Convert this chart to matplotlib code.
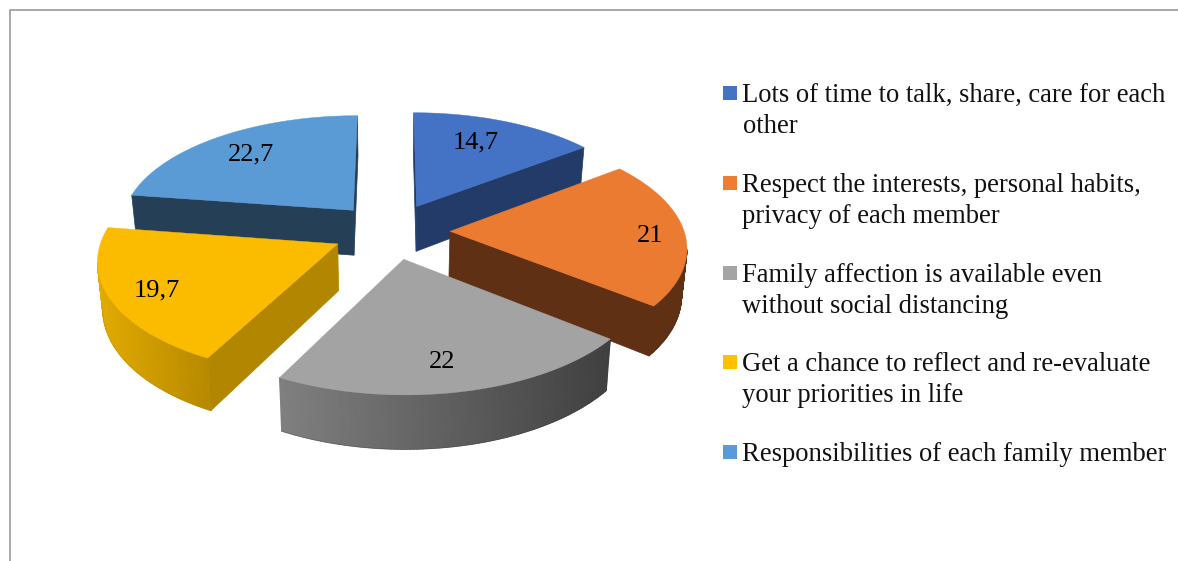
import numpy as np
import matplotlib
matplotlib.use('Agg')
import matplotlib.pyplot as plt
from matplotlib.patches import Rectangle
from matplotlib.colors import LinearSegmentedColormap

plt.rcParams['font.family'] = ['Liberation Serif', 'DejaVu Serif']

categories = ['Lots of time to talk, share, care for each\nother',
              'Respect the interests, personal habits,\nprivacy of each member',
              'Family affection is available even\nwithout social distancing',
              'Get a chance to reflect and re-evaluate\nyour priorities in life',
              'Responsibilities of each family member']
values = [14.7, 21, 22, 19.7, 22.7]
value_labels = ['14,7', '21', '22', '19,7', '22,7']

top_colors = ['#4472C4', '#EB7B31', '#A3A3A3', '#FBBC00', '#5B9BD5']
radial_colors = ['#223B68', '#5F3014', '#444444', '#B38600', '#253F56']
arc_left = ['#223B68', '#5F3014', '#808080', '#E3AC00', '#253F56']
arc_right = ['#223B68', '#5F3014', '#404040', '#B88A00', '#253F56']
legend_colors = ['#4472C4', '#ED7D31', '#A5A5A5', '#FFC000', '#5B9BD5']

label_pos = [(476, 142), (650, 236), (442, 362), (157, 290), (251, 154)]
legend_y = [101, 191, 281, 370, 460]

# pie geometry, in pixels
cx, cy = 391, 231
radius = 234
explode = 59
tilt = 0.475
dist = 1887
depth = 46


def project(x, y, z=0.0):
    s = dist / (dist + y)
    # the base of the pie is a bit further away, so it pulls in sideways
    return cx + x * s * (1 - z * 0.0004), cy - y * tilt * s + z * s


fig = plt.figure(figsize=(11.78, 5.61), dpi=100)
ax = fig.add_axes([0, 0, 1, 1])
ax.set_xlim(0, 1178)
ax.set_ylim(561, 0)
ax.axis('off')

# chart frame, cut by the page on the right and the bottom
ax.plot([9.5, 9.5, 1178], [561, 9.5, 9.5], color='#999999', lw=1.2, solid_joinstyle='miter')

edges = np.cumsum([0] + values) / np.sum(values) * 2 * np.pi
wedges = []
for i in range(len(values)):
    mid = (edges[i] + edges[i + 1]) / 2
    wedges.append((i, explode * np.sin(mid), explode * np.cos(mid)))
# painter's order, back slices first
wedges.sort(key=lambda w: -w[2])

z = 2
for i, ax0, ay0 in wedges:
    th = np.linspace(edges[i], edges[i + 1], 120)
    px = ax0 + radius * np.sin(th)
    py = ay0 + radius * np.cos(th)
    top_x, top_y = project(px, py)
    bot_x, bot_y = project(px, py, depth)
    apex_top = project(ax0, ay0)
    apex_bot = project(ax0, ay0, depth)

    # the two flat cut walls
    for a, b, c, d in [(apex_top, (top_x[0], top_y[0]), (bot_x[0], bot_y[0]), apex_bot),
                       ((top_x[-1], top_y[-1]), apex_top, apex_bot, (bot_x[-1], bot_y[-1]))]:
        if b[0] < a[0]:
            ax.fill([a[0], b[0], c[0], d[0]], [a[1], b[1], c[1], d[1]],
                    color=radial_colors[i], lw=0.5, zorder=z)

    # outer wall with a left to right shade
    seen = np.where(top_x[1:] < top_x[:-1])[0]
    if len(seen) > 0:
        k0, k1 = seen[0], seen[-1] + 2
        cmap = LinearSegmentedColormap.from_list('wall', [arc_left[i], arc_right[i]])
        xx = np.vstack([top_x[k0:k1], bot_x[k0:k1]])
        yy = np.vstack([top_y[k0:k1], bot_y[k0:k1]])
        ax.pcolormesh(xx, yy, xx, shading='gouraud', cmap=cmap,
                      vmin=top_x.min(), vmax=top_x.max(), zorder=z)
        # soft edge for the bottom of the wall
        ax.plot(bot_x[k0:k1], bot_y[k0:k1], color=arc_right[i], lw=0.4, alpha=0.5, zorder=z)

    ax.fill(np.r_[apex_top[0], top_x], np.r_[apex_top[1], top_y],
            color=top_colors[i], lw=0.3, zorder=z + 1)
    z += 2

for lab, pos in zip(value_labels, label_pos):
    ax.text(pos[0], pos[1], lab, fontsize=19, ha='center', va='center', color='black', zorder=50)

for name, col, y in zip(categories, legend_colors, legend_y):
    ax.add_patch(Rectangle((723, y - 15), 14, 14, facecolor=col, edgecolor='none'))
    for n, line in enumerate(name.split('\n')):
        ax.text(742.5, y + 1 + n * 30.5, line, fontsize=19.2, ha='left', va='baseline', color='#111111')

plt.savefig('out.png', dpi=100)
